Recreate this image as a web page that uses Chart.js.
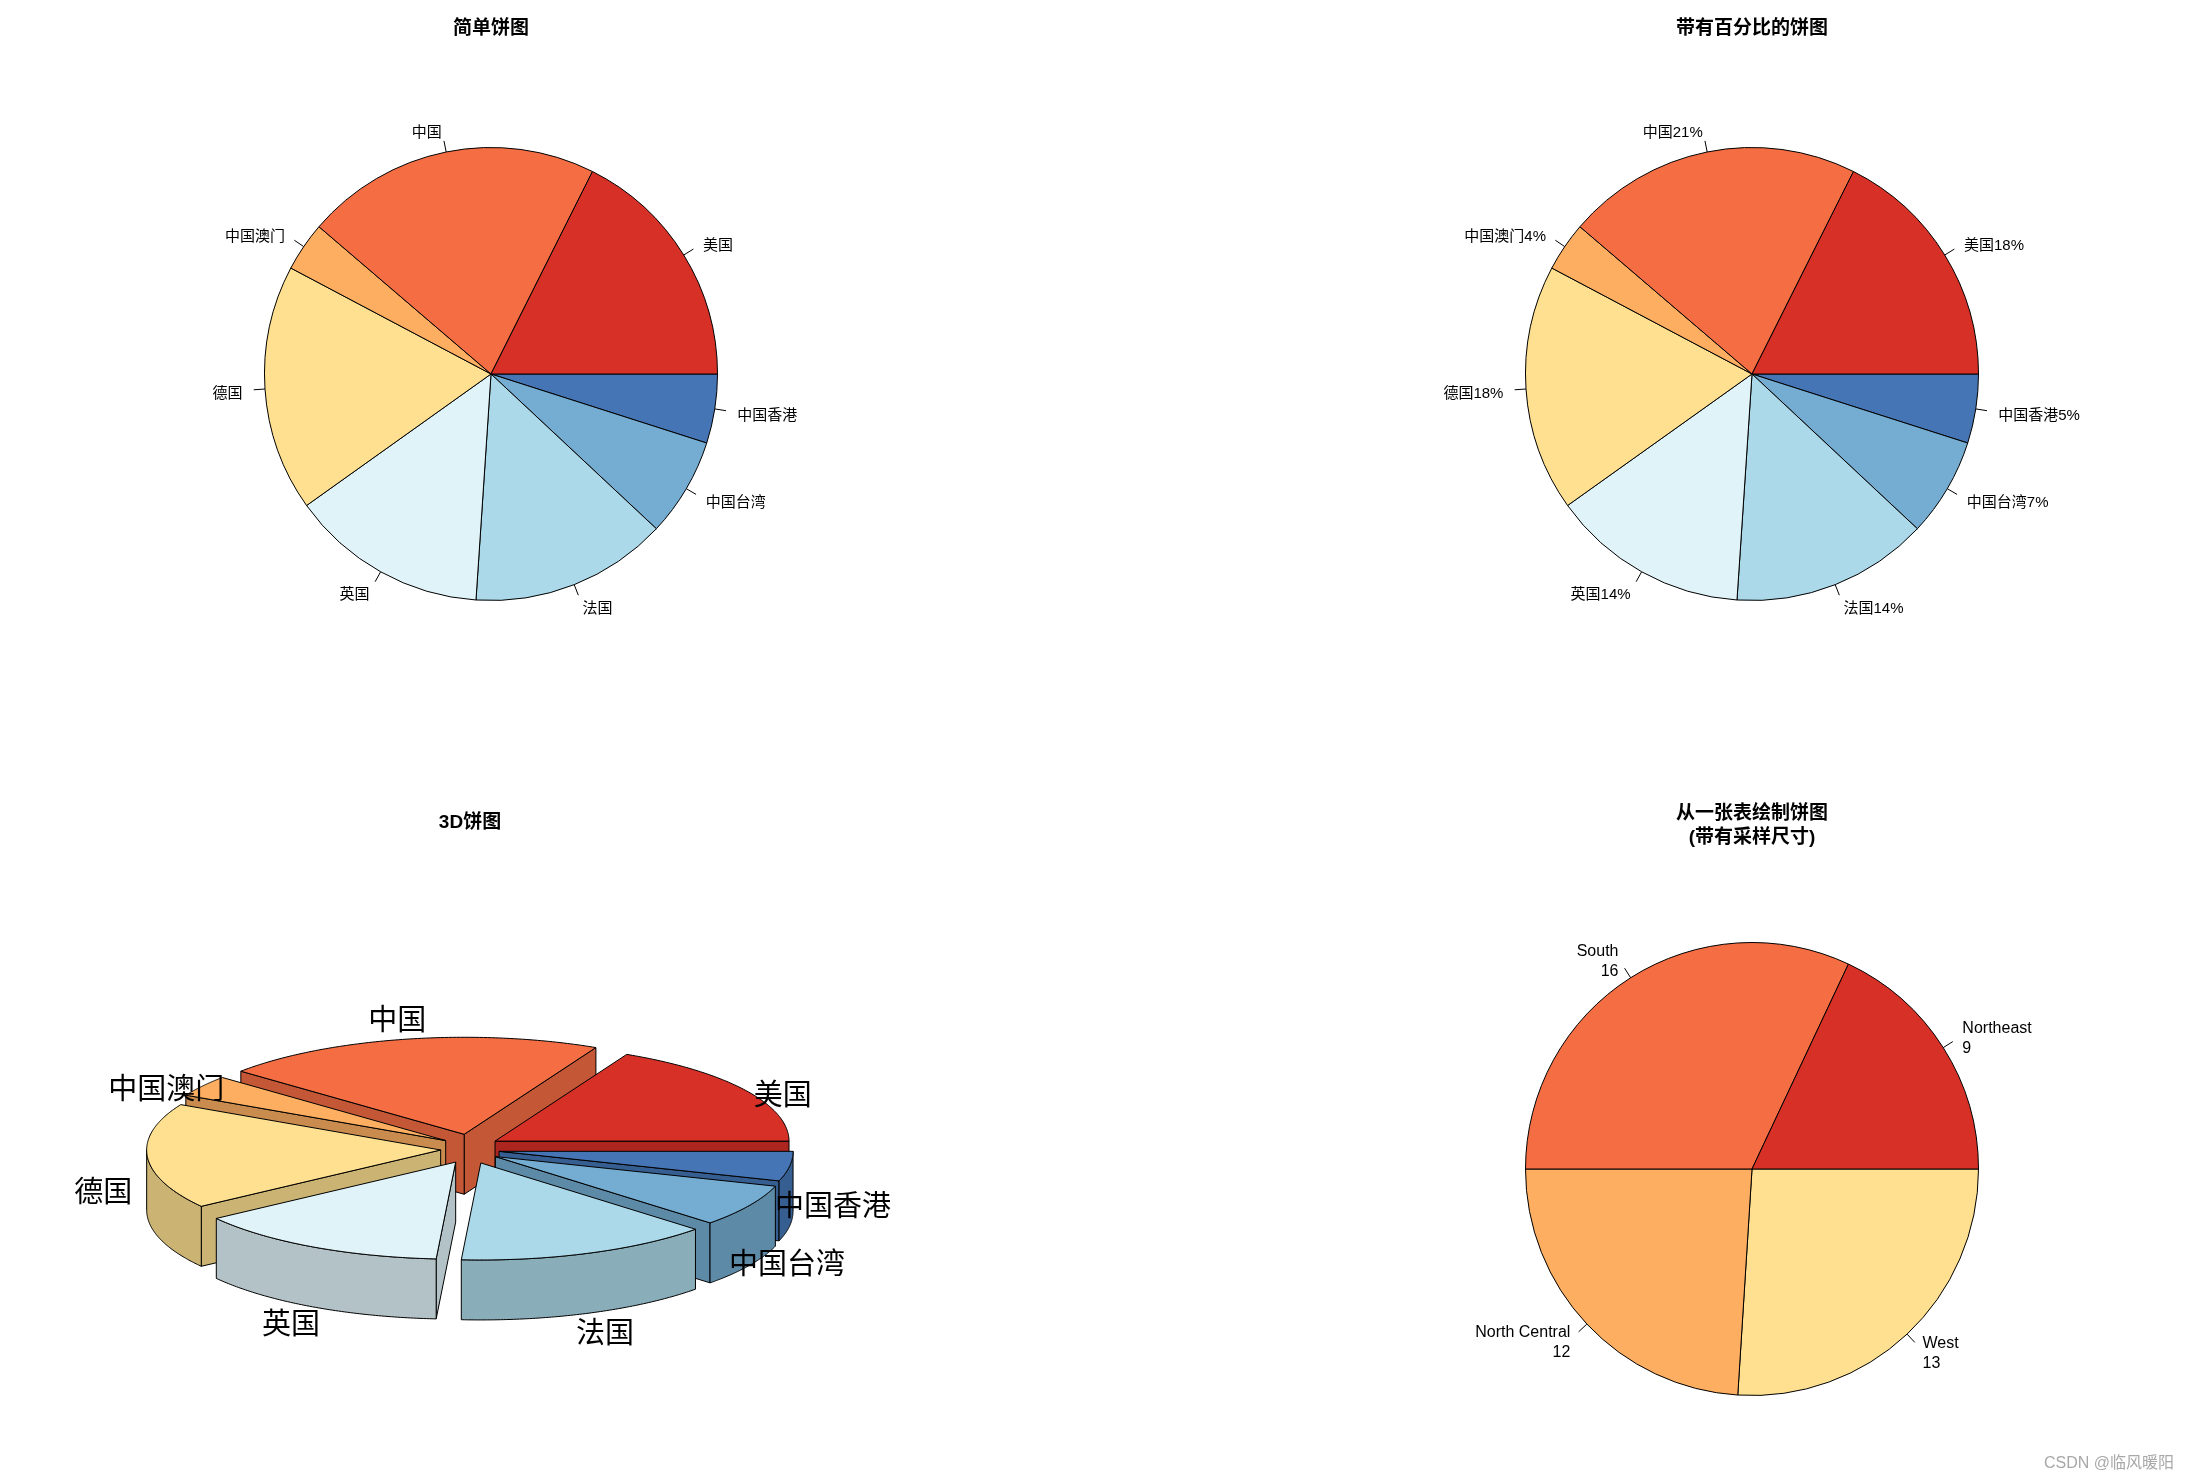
<!DOCTYPE html>
<html>
<head>
<meta charset="utf-8">
<script src="https://cdn.jsdelivr.net/npm/chart.js@4.4.1/dist/chart.umd.min.js"></script>
<style>
html,body{margin:0;padding:0;background:#fff;width:2193px;height:1480px;overflow:hidden;}
canvas{position:absolute;}
#wm{position:absolute;left:2044px;top:1449px;font:16px "Liberation Sans","Noto Sans CJK SC",sans-serif;color:#a8a8a8;white-space:nowrap;}
</style>
</head>
<body>
<canvas id="c1" width="1097" height="740" style="left:0;top:0;width:1097px;height:740px"></canvas>
<canvas id="c2" width="1096" height="740" style="left:1097px;top:0;width:1096px;height:740px"></canvas>
<canvas id="c3" width="1097" height="740" style="left:0;top:740px;width:1097px;height:740px"></canvas>
<canvas id="c4" width="1096" height="740" style="left:1097px;top:740px;width:1096px;height:740px"></canvas>
<div id="wm">CSDN @临风暖阳</div>
<script>
// ---------- data ----------
const countryNames  = ["美国","中国","中国澳门","德国","英国","法国","中国台湾","中国香港"];
const countryValues = [25, 30, 5, 25, 20, 20, 10, 7];
const countryColors = ["#D73027","#F46D43","#FDAE61","#FEE090","#E0F3F8","#ABD9E9","#74ADD1","#4575B4"];
const regionNames   = ["Northeast","South","North Central","West"];
const regionCounts  = [9, 16, 12, 13];
const regionColors  = ["#D73027","#F46D43","#FDAE61","#FEE090"];
const titleSimple   = ["简单饼图"];
const titlePct      = ["带有百分比的饼图"];
const title3D       = ["3D饼图"];
const titleTable    = ["从一张表绘制饼图","(带有采样尺寸)"];

const total = countryValues.reduce((a,b)=>a+b,0);
const pctLabels = countryNames.map((n,i)=> n + Math.round(countryValues[i]/total*100) + "%");
const regionLabels = regionNames.map((n,i)=> n + "\n" + regionCounts[i]);

const LABEL_FONT = '15px "Liberation Sans","Noto Sans CJK SC",sans-serif';
const TITLE_FONT = 'bold 19px "Liberation Sans","Noto Sans CJK SC",sans-serif';
const TEXT_DY = 3;

// R draws counter-clockwise from 3 o'clock; Chart.js draws clockwise,
// so feed reversed arrays with rotation 90.
const rev = a => a.slice().reverse();

function makeTitle(lines, y, lh){
  return {
    id:'rTitle',
    afterDraw(chart){
      const ctx = chart.ctx, ca = chart.chartArea;
      ctx.save();
      ctx.font = TITLE_FONT; ctx.fillStyle = '#000';
      ctx.textAlign = 'center'; ctx.textBaseline = 'middle';
      const x = (ca.left + ca.right)/2;
      lines.forEach((t,k)=>ctx.fillText(t, x, y + k*lh));
      ctx.restore();
    }
  };
}

function makeLabels(font, lh){
  return {
    id:'rLabels',
    afterDatasetsDraw(chart){
      const ctx = chart.ctx, meta = chart.getDatasetMeta(0), labels = chart.data.labels;
      ctx.save();
      ctx.font = font; ctx.fillStyle = '#000'; ctx.strokeStyle = '#000'; ctx.lineWidth = 1;
      meta.data.forEach((el,i)=>{
        const mid = (el.startAngle + el.endAngle)/2, r = el.outerRadius;
        const c = Math.cos(mid), s = Math.sin(mid);
        ctx.beginPath();
        ctx.moveTo(el.x + r*c, el.y + r*s);
        ctx.lineTo(el.x + 1.05*r*c, el.y + 1.05*r*s);
        ctx.stroke();
        const lx = el.x + 1.1*r*c, ly = el.y + 1.1*r*s + TEXT_DY;
        ctx.textAlign = c < 0 ? 'right' : 'left';
        ctx.textBaseline = 'middle';
        const lines = String(labels[i]).split('\n');
        lines.forEach((t,k)=>ctx.fillText(t, lx, ly + (k-(lines.length-1)/2)*lh));
      });
      ctx.restore();
    }
  };
}

function pieConfig(labels, values, colors, padding, plugins){
  return {
    type:'pie',
    data:{ labels: labels, datasets:[{ data: values, backgroundColor: colors,
      borderColor:'#000', borderWidth:1, hoverOffset:0 }] },
    options:{
      responsive:false, animation:false, rotation:90,
      layout:{ padding: padding },
      plugins:{ legend:{display:false}, tooltip:{enabled:false}, title:{display:false} },
      events:[]
    },
    plugins: plugins
  };
}

// Top-left: simple pie
new Chart(document.getElementById('c1'), pieConfig(
  rev(countryNames), rev(countryValues), rev(countryColors),
  {left:264, right:379, top:147, bottom:139},
  [makeLabels(LABEL_FONT, 20), makeTitle(titleSimple, 29, 24)]
));

// Top-right: pie with percentages
new Chart(document.getElementById('c2'), pieConfig(
  rev(pctLabels), rev(countryValues), rev(countryColors),
  {left:428, right:214, top:147, bottom:139},
  [makeLabels(LABEL_FONT, 20), makeTitle(titlePct, 29, 24)]
));

// Bottom-right: pie from a table
new Chart(document.getElementById('c4'), pieConfig(
  rev(regionLabels), rev(regionCounts), rev(regionColors),
  {left:428, right:214, top:202, bottom:84},
  [makeLabels('16px "Liberation Sans",sans-serif', 20), makeTitle(titleTable, 74, 24)]
));

// Bottom-left: 3D exploded pie, geometry taken from the library's arc elements
function shadeColor(hex, f){
  const n = parseInt(hex.slice(1),16);
  const r = Math.round(((n>>16)&255)*f), g = Math.round(((n>>8)&255)*f), b = Math.round((n&255)*f);
  return 'rgb('+r+','+g+','+b+')';
}
const pie3D = {
  id:'pie3D',
  afterDatasetsDraw(chart){
    const ctx = chart.ctx, meta = chart.getDatasetMeta(0);
    const els = meta.data;
    const cx = els[0].x, cy = els[0].y, R = els[0].outerRadius;
    const ry = R*0.33, ex = R*0.1, ey = R*0.051, h = R*0.204;
    const slices = els.map((el,i)=>({i, s:el.startAngle, e:el.endAngle, b:(el.startAngle+el.endAngle)/2}));
    slices.sort((p,q)=>Math.sin(q.b)-Math.sin(p.b));
    ctx.save();
    ctx.lineWidth = 1; ctx.strokeStyle = '#000'; ctx.lineJoin = 'round';
    const poly = (pts, fill)=>{
      ctx.beginPath();
      pts.forEach((p,k)=> k ? ctx.lineTo(p[0],p[1]) : ctx.moveTo(p[0],p[1]));
      ctx.closePath(); ctx.fillStyle = fill; ctx.fill(); ctx.stroke();
    };
    slices.forEach(sl=>{
      const col = countryColors[sl.i], sh = shadeColor(col, 0.8);
      const ox = cx + ex*Math.cos(sl.b), oy = cy - ey*Math.sin(sl.b);
      const P = (a, dz)=>[ox + R*Math.cos(a), oy - ry*Math.sin(a) + (dz||0)];
      const face = a => poly([[ox,oy], P(a), P(a,h), [ox,oy+h]], sh);
      if (Math.cos(sl.s) > 0) face(sl.s);
      if (Math.cos(sl.e) < 0) face(sl.e);
      const a0 = Math.max(sl.s, Math.PI), a1 = Math.min(sl.e, 2*Math.PI);
      if (a1 > a0){
        const n = 80, top = [], bot = [];
        for (let k=0;k<=n;k++){ const a = a0 + (a1-a0)*k/n; top.push(P(a)); bot.push(P(a,h)); }
        poly(top.concat(bot.reverse()), sh);
      }
      const pts = [[ox,oy]], n = 100;
      for (let k=0;k<=n;k++){ pts.push(P(sl.s + (sl.e-sl.s)*k/n)); }
      poly(pts, col);
    });
    // labels
    ctx.font = '29px "Noto Sans CJK SC",sans-serif';
    ctx.fillStyle = '#000'; ctx.textAlign = 'center'; ctx.textBaseline = 'middle';
    els.forEach((el,i)=>{
      const b = (el.startAngle + el.endAngle)/2;
      ctx.fillText(chart.data.labels[i], cx + 1.25*R*Math.cos(b), cy + 0.105*R - 0.558*R*Math.sin(b));
    });
    ctx.restore();
  }
};
new Chart(document.getElementById('c3'), {
  type:'pie',
  data:{ labels: countryNames, datasets:[{ data: countryValues,
    backgroundColor:'rgba(0,0,0,0)', borderWidth:0, hoverOffset:0 }] },
  options:{
    responsive:false, animation:false, rotation:90,
    layout:{ padding:{left:176, right:333, top:115, bottom:37} },
    plugins:{ legend:{display:false}, tooltip:{enabled:false} },
    events:[]
  },
  plugins:[pie3D, makeTitle(title3D, 83, 24)]
});
</script>
</body>
</html>
